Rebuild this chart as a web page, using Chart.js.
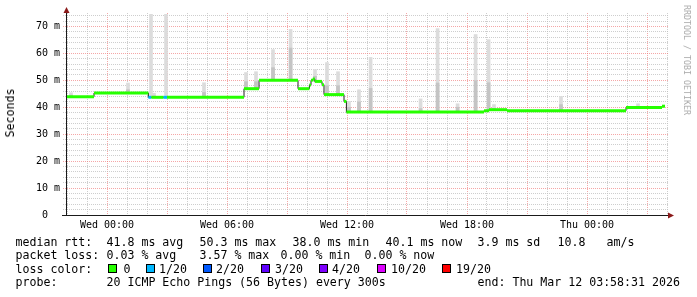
<!DOCTYPE html>
<html><head><meta charset="utf-8">
<script src="https://cdn.jsdelivr.net/npm/chart.js@4"></script>
<style>
html,body{margin:0;padding:0;background:#fff;overflow:hidden}
#wrap{position:relative;width:697px;height:297px;background:#fff}
#c{position:absolute;left:0;top:0}
.t{position:absolute;font-family:"DejaVu Sans Mono",monospace;font-size:11.6px;line-height:14px;color:#000;white-space:pre}
.box{position:absolute;width:7px;height:7px;border:1px solid #000}
#ylab{position:absolute;left:10px;top:113px;transform:translate(-50%,-50%) rotate(-90deg);font-family:"DejaVu Sans Mono",monospace;font-size:11.6px;line-height:14px;white-space:pre;color:#000}
#credit{position:absolute;left:687px;top:60px;transform:translate(-50%,-50%) rotate(90deg);font-family:"DejaVu Sans Mono",monospace;font-size:8.3px;line-height:10px;white-space:pre;color:#aaa}
</style></head>
<body><div id="wrap"><canvas id="c" width="697" height="297"></canvas></div>
<script>
// ---- data (hours relative to Wed 00:00, values in ms) ----
const medianHours = [-2.0, -0.65, 2.07, 2.22, 2.83, 3.0, 6.85, 7.6, 9.55, 10.12, 10.2, 10.29, 10.39, 10.75, 10.85, 11.85, 11.97, 18.85, 19.1, 20.0, 25.95, 27.75];
const medianMs    = [43.9, 45.3, 43.7, 43.7, 43.7, 43.7, 46.9, 50.0, 46.9, 48.3, 50.0, 50.5, 49.6, 48.4, 44.7, 42.2, 38.2, 38.7, 39.1, 38.7, 39.9, 40.4];
const medianLoss  = [0, 0, 1, 0, 1, 0, 0, 0, 0, 0, 0, 0, 0, 0, 0, 0, 0, 0, 0, 0, 0, 0];
const medianEnd = 27.9;

const smokeHours = [-1.8, 1.05, 2.2, 2.35, 2.95, 4.85, 6.95, 7.45, 8.3, 9.18, 10.4, 11.0, 11.55, 12.1, 12.6, 13.18, 15.68, 16.53, 17.53, 18.43, 19.08, 19.35, 22.7, 26.55];
const smokeLow   = [43.9, 45.3, 43.7, 43.7, 43.7, 43.7, 46.9, 46.9, 50.0, 50.0, 49.6, 44.7, 44.7, 38.2, 38.2, 38.2, 38.2, 38.2, 38.2, 38.2, 38.7, 39.1, 38.5, 39.9];
const smokeMid   = [44.5, 46.5, 43.7, 44.2, 43.7, 45.5, 49.5, 49.5, 54.7, 62.0, 51.5, 48.0, 48.0, 40.0, 42.0, 47.0, 39.5, 49.0, 40.0, 49.9, 49.1, 39.5, 41.0, 40.3];
const smokeHigh  = [45.4, 49.0, 74.5, 45.2, 74.5, 49.1, 52.9, 53.2, 61.4, 68.9, 54.0, 56.6, 53.2, 42.2, 46.5, 58.5, 43.1, 69.2, 41.3, 67.0, 65.1, 41.0, 44.0, 41.3];

const xTickHours  = [0, 6, 12, 18, 24];
const xTickLabels = ["Wed 00:00", "Wed 06:00", "Wed 12:00", "Wed 18:00", "Thu 00:00"];
const yTickValues = [0, 10, 20, 30, 40, 50, 60, 70];
const yTickLabels = ["0  ", "10 m", "20 m", "30 m", "40 m", "50 m", "60 m", "70 m"];

const lossNames  = ["0", "1/20", "2/20", "3/20", "4/20", "10/20", "19/20"];
const lossColors = ["#26ff00", "#00b8ff", "#0059ff", "#5e00ff", "#7e00ff", "#dd00ff", "#ff0000"];
const rttStats  = ["41.8 ms avg", "50.3 ms max", "38.0 ms min", "40.1 ms now", "3.9 ms sd", "10.8", "am/s"];
const lossStats = ["0.03 % avg", "3.57 % max", "0.00 % min", "0.00 % now"];
const probeText = "20 ICMP Echo Pings (56 Bytes) every 300s";
const endText   = "end: Thu Mar 12 03:58:31 2026";

// ---- layout for text block ----
const wrap = document.getElementById('wrap');
function txt(s, left, top, cls) {
  const d = document.createElement('div'); d.className = cls || 't';
  d.style.left = left + 'px'; d.style.top = top + 'px'; d.textContent = s; wrap.appendChild(d); return d;
}
const rowTop = [234.5, 248, 262, 275.3];
txt("median rtt:", 15.5, rowTop[0]);
[106.5, 199.5, 292.5, 385.5, 477.5, 557.5, 606.5].forEach((x, i) => txt(rttStats[i], x, rowTop[0]));
txt("packet loss:", 15.5, rowTop[1]);
[106.5, 199.5, 280.5, 364.5].forEach((x, i) => txt(lossStats[i], x, rowTop[1]));
txt("loss color:", 15.5, rowTop[2]);
const boxX = [108, 146, 203, 261, 319, 377, 442];
const nameX = [123.5, 159, 216, 275, 332, 391, 456];
lossNames.forEach((n, i) => {
  const b = document.createElement('div'); b.className = 'box';
  b.style.left = boxX[i] + 'px'; b.style.top = '264px'; b.style.background = lossColors[i]; wrap.appendChild(b);
  txt(n, nameX[i], rowTop[2]);
});
txt("probe:", 15.5, rowTop[3]);
txt(probeText, 106.5, rowTop[3]);
txt(endText, 477.5, rowTop[3]);
const yl = document.createElement('div'); yl.id = 'ylab'; yl.textContent = 'Seconds'; wrap.appendChild(yl);
const cr = document.createElement('div'); cr.id = 'credit'; cr.textContent = 'RRDTOOL / TOBI OETIKER'; wrap.appendChild(cr);

// ---- datasets ----
const stepData = medianHours.map((h, i) => ({x: h, y: medianMs[i]}));
stepData.push({x: medianEnd, y: medianMs[medianMs.length - 1]});
const pieces = [];
medianHours.forEach((h, i) => {
  const end = i + 1 < medianHours.length ? medianHours[i + 1] : medianEnd;
  pieces.push({x: h, y: medianMs[i]}, {x: end, y: medianMs[i]}, {x: end, y: null});
});

const GRID = 'rgba(190,190,190,0.75)';
const MGRID = 'rgba(240,120,120,0.65)';
function isInt(v) { return Math.abs(v - Math.round(v)) < 1e-6; }

const axisPlugin = {
  id: 'rrdaxes',
  afterDatasetsDraw(chart) {
    const {ctx, chartArea: a} = chart;
    ctx.save();
    ctx.strokeStyle = '#1a1a1a'; ctx.lineWidth = 1;
    ctx.beginPath();
    ctx.moveTo(a.left - 5, a.bottom + 0.5); ctx.lineTo(a.right + 1, a.bottom + 0.5);
    ctx.moveTo(a.left - 0.5, a.bottom + 1); ctx.lineTo(a.left - 0.5, a.top - 1);
    ctx.stroke();
    ctx.fillStyle = '#8b1a1a';
    ctx.beginPath();
    ctx.moveTo(a.left - 0.5, a.top - 6); ctx.lineTo(a.left - 3.5, a.top); ctx.lineTo(a.left + 2.5, a.top); ctx.closePath(); ctx.fill();
    ctx.beginPath();
    ctx.moveTo(a.right + 6, a.bottom + 0.5); ctx.lineTo(a.right, a.bottom - 2.5); ctx.lineTo(a.right, a.bottom + 3.5); ctx.closePath(); ctx.fill();
    ctx.restore();
  }
};

new Chart(document.getElementById('c'), {
  type: 'bar',
  data: {
    datasets: [
      {type: 'line', data: pieces, borderWidth: 3, pointRadius: 0, spanGaps: false, borderCapStyle: 'butt',
       borderColor: lossColors[0],
       segment: {borderColor: c => lossColors[medianLoss[Math.floor(c.p0DataIndex / 3)]]}, order: 0},
      {type: 'line', data: stepData, stepped: 'before', borderColor: '#202020', borderWidth: 1, pointRadius: 0, order: 1},
      {type: 'bar', data: smokeHours.map((h, i) => ({x: h, y: [smokeLow[i], smokeMid[i]]})),
       backgroundColor: '#c4c4c4', barThickness: 3, grouped: false, borderWidth: 0, order: 2},
      {type: 'bar', data: smokeHours.map((h, i) => ({x: h, y: [smokeLow[i], smokeHigh[i]]})),
       backgroundColor: '#dcdcdc', barThickness: 3, grouped: false, borderWidth: 0, order: 3}
    ]
  },
  options: {
    responsive: false, animation: false, devicePixelRatio: 1,
    layout: {padding: {left: 0, right: 29, top: 13, bottom: 0}},
    plugins: {legend: {display: false}, tooltip: {enabled: false}},
    scales: {
      x: {
        type: 'linear', min: -2, max: 28.05, offset: false,
        afterFit: s => { s.height = 82; },
        ticks: {stepSize: 1, includeBounds: false, autoSkip: false, maxRotation: 0, minRotation: 0, maxTicksLimit: 1000,
                padding: 4, color: '#000', font: {family: 'DejaVu Sans Mono', size: 10},
                callback: v => { const i = xTickHours.indexOf(v); return i >= 0 ? xTickLabels[i] : ''; }},
        grid: {offset: false, drawTicks: false,
               color: c => !isInt(c.tick.value) ? 'rgba(0,0,0,0)' : (Math.round(c.tick.value) % 3 === 0 ? MGRID : GRID)},
        border: {display: false, dash: [1, 1]}
      },
      y: {
        type: 'linear', min: 0, max: 75,
        afterFit: s => { s.width = 67; },
        ticks: {stepSize: 2, includeBounds: false, autoSkip: false, maxTicksLimit: 1000, padding: 3,
                color: '#000', font: {family: 'DejaVu Sans Mono', size: 10},
                callback: v => { const i = yTickValues.indexOf(v); return i >= 0 ? yTickLabels[i] : ''; }},
        grid: {drawTicks: true, tickLength: 4, tickBorderDash: [1, 1],
               color: c => (c.tick.value % 10 === 0 ? MGRID : GRID),
               tickColor: c => (c.tick.value % 10 === 0 ? MGRID : GRID)},
        border: {display: false, dash: [1, 1]}
      }
    }
  },
  plugins: [axisPlugin]
});
</script>
</body></html>
